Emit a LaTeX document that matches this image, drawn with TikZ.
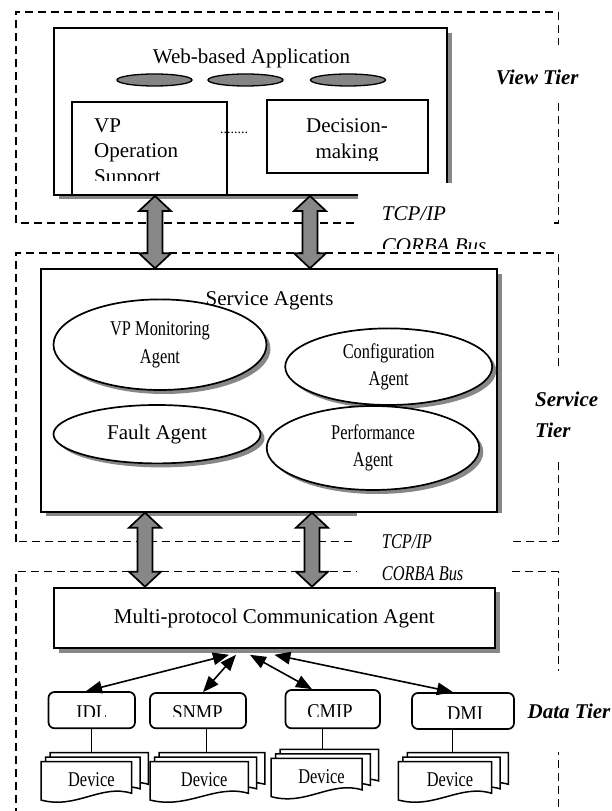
\documentclass[tikz,border=0pt]{standalone}
\usepackage{fontspec}
\setmainfont{Liberation Serif}
\newfontfamily\narrowfont[FakeStretch=0.78]{Liberation Serif}
\newfontfamily\slimfont[FakeStretch=0.88]{Liberation Serif}
\usetikzlibrary{arrows.meta}
\usetikzlibrary{shapes.geometric}
\usetikzlibrary{shadows}
\usetikzlibrary{calc}

\newcommand{\txtsize}{\fontsize{21}{25.5}\selectfont}

% one sheet of a device stack: left, top, width
\newcommand{\devsheet}[3]{%
  \draw[sheet] ({#1},{#2}) -- ({#1+(#3)},{#2}) -- ({#1+(#3)},{#2-31.6})
    .. controls ({#1+0.66*(#3)},{#2-22}) and ({#1+0.385*(#3)},{#2-48}) .. ({#1},{#2-38.3}) -- cycle;}

% three sheets and the label: name, left, top, width of the front sheet
\newcommand{\devstack}[4]{%
  \devsheet{#2+9}{#3+9}{#4+7.6}
  \devsheet{#2+4.5}{#3+4.5}{#4+3.8}
  \devsheet{#2}{#3}{#4}
  \node[devtext] (#1) at ({#2+(#4)/2+5},{#3-25}) {Device};}

% grey two-headed block arrow between an upper and a lower tip
\newcommand{\busarrow}[2]{%
  \draw[bus] (#1) -- ++(16,-15) -- ++(-8.5,0) -- ($(#2)+(7.5,15)$) -- ++(8.5,0)
    -- (#2) -- ++(-16,15) -- ++(8.5,0) -- ($(#1)+(-7.5,-15)$) -- ++(-8.5,0) -- cycle;}

\tikzset{
  tier/.style={line width=1.6pt, dash pattern=on 8pt off 5pt},
  panel/.style={draw, line width=2pt, fill=white, inner sep=0pt,
    drop shadow={shadow xshift=5pt, shadow yshift=-4.5pt, fill=black!47, opacity=1}},
  innerbox/.style={draw, line width=1.8pt, fill=white, inner sep=0pt},
  widget/.style={ellipse, draw, line width=1.3pt, fill=black!48,
    minimum width=75pt, minimum height=12pt, inner sep=0pt},
  agent/.style={ellipse, draw, line width=1.7pt, fill=white, inner sep=0pt, align=center,
    font=\narrowfont\fontsize{21}{27.5}\selectfont,
    drop shadow={shadow xshift=4pt, shadow yshift=-4pt, fill=black!47, opacity=1}},
  proto/.style={draw, line width=1.7pt, rounded corners=6pt, fill=white, inner sep=0pt},
  protext/.style={anchor=base, inner sep=0pt, font=\slimfont\txtsize},
  devtext/.style={anchor=base, inner sep=0pt, font=\narrowfont\txtsize},
  sheet/.style={draw, fill=white, line width=1.5pt},
  stem/.style={line width=1.5pt},
  link/.style={line width=1.6pt, {Triangle[length=16pt,width=12.5pt]}-{Triangle[length=16pt,width=12.5pt]}},
  bus/.style={draw, line width=1.7pt, fill=black!47},
  tiername/.style={fill=white, inner ysep=0pt, inner xsep=3pt,
    font=\fontsize{21}{30.7}\selectfont\bfseries\itshape},
  busname/.style={anchor=base west, inner sep=0pt, font=\txtsize\itshape},
}

\begin{document}
\begin{tikzpicture}[x=1pt,y=1pt]
\useasboundingbox (0,0) rectangle (611,811);

% tier frames
\draw[tier] (15.7,587.7) rectangle (558.3,799);
\draw[tier] (15.7,269.3) rectangle (558.3,557.7);
\draw[tier] (15.7,-5) rectangle (558.3,239.3);

% view tier
\node[panel, minimum width=392.8pt, minimum height=166.7pt] (webapp) at (250.1,699.35) {};
\node[anchor=base, inner sep=0pt, font=\txtsize] (webtitle) at (251.5,747.3) {Web-based Application};
\node[widget] (wid1) at (154.5,731) {};
\node[widget] (wid2) at (245.5,731) {};
\node[widget] (wid3) at (348,731) {};
\node[innerbox, minimum width=155pt, minimum height=92.8pt] (vpops) at (149.5,662.4) {};
\node[innerbox, minimum width=161.3pt, minimum height=72.7pt] (decision) at (347.35,674.65) {};
\begin{scope}
  \clip (vpops.north west) rectangle ([yshift=15pt]vpops.south east);
  \node[anchor=west, inner sep=0pt, align=left, font=\txtsize] (vptext) at (94,657.65) {VP\\Operation\\Support};
\end{scope}
\begin{scope}
  \clip (decision.north west) rectangle ([yshift=12.7pt]decision.south east);
  \node[inner sep=0pt, align=center, font=\txtsize] (dectext) at (347,670.4) {Decision-\\making};
\end{scope}
\node[anchor=base, inner sep=0pt, font=\fontsize{14}{14}\selectfont] (dots) at (234,677) {........};

% service tier
\node[panel, minimum width=455.5pt, minimum height=242.4pt] (agents) at (268.95,420.5) {};
\node[agent, minimum width=213pt, minimum height=90.6pt] (vpmon) at (160,466.3) {VP Monitoring\\Agent};
\node[agent, minimum width=207pt, minimum height=76.6pt] (config) at (388.7,444.3) {Configuration\\Agent};
\node[agent, minimum width=207pt, minimum height=58.4pt, font=\txtsize] (fault) at (157,376.8) {Fault Agent};
\node[agent, minimum width=212.6pt, minimum height=84pt] (perf) at (373,363) {Performance\\Agent};
\node[anchor=base, inner sep=0pt, font=\txtsize] (agtitle) at (269.6,505.7) {Service Agents};

% data tier
\node[panel, minimum width=441.3pt, minimum height=60.6pt, font=\txtsize] (multi) at (274.35,193) {Multi-protocol Communication Agent};
\node[proto, minimum width=86.5pt, minimum height=36.3pt] (idl) at (91.75,100.85) {};
\node[proto, minimum width=96pt, minimum height=35.3pt] (snmp) at (198,100.35) {};
\node[proto, minimum width=94.5pt, minimum height=38.3pt] (cmip) at (332.75,101.85) {};
\node[proto, minimum width=102pt, minimum height=36pt] (dmi) at (463,100) {};
\begin{scope}
  \clip (idl.north west) rectangle ([yshift=13pt]idl.south east);
  \node[protext] (idlname) at (91.75,91.8) {IDL};
\end{scope}
\begin{scope}
  \clip (snmp.north west) rectangle ([yshift=13pt]snmp.south east);
  \node[protext] (snmpname) at (197.5,91.8) {SNMP};
\end{scope}
\begin{scope}
  \clip (cmip.north west) rectangle ([yshift=13pt]cmip.south east);
  \node[protext] (cmipname) at (330,92.3) {CMIP};
\end{scope}
\begin{scope}
  \clip (dmi.north west) rectangle ([yshift=11.6pt]dmi.south east);
  \node[protext] (dminame) at (465,90) {DMI};
\end{scope}

% managed devices
\devstack{idldev}{41}{49.3}{90.7}
\devstack{snmpdev}{150}{49.3}{98.3}
\devstack{cmipdev}{271}{52.7}{91}
\devstack{dmidev}{398.3}{49.3}{93.4}
\coordinate (idlstem) at (91.7,58.3);
\coordinate (snmpstem) at (206.7,58.3);
\coordinate (cmipstem) at (322.7,61.7);
\coordinate (dmistem) at (452.7,58.3);
\draw[stem] (idlstem |- idl.south) -- (idlstem);
\draw[stem] (snmpstem |- snmp.south) -- (snmpstem);
\draw[stem] (cmipstem |- cmip.south) -- (cmipstem);
\draw[stem] (dmistem |- dmi.south) -- (dmistem);

% agent to protocol adapters
\draw[link] ([xshift=-45.4pt,yshift=-5.5pt]multi.south) -- ([xshift=-5.75pt]idl.north);
\draw[link] ([xshift=-38.4pt,yshift=-5.5pt]multi.south) -- ([xshift=5pt]snmp.north);
\draw[link] ([xshift=-24.4pt,yshift=-5.5pt]multi.south) -- ([xshift=-20.75pt]cmip.north);
\draw[link] ([yshift=-5.5pt]multi.south) -- ([xshift=-10pt]dmi.north);

% CORBA bus arrows
\coordinate (upbus1) at ([xshift=-95.1pt]webapp.south);
\coordinate (upbus2) at ([xshift=59.9pt]webapp.south);
\coordinate (sabus1) at (upbus1 |- agents.north);
\coordinate (sabus2) at (upbus2 |- agents.north);
\coordinate (lobus1) at ([xshift=-123.95pt]agents.south);
\coordinate (lobus2) at ([xshift=43.05pt]agents.south);
\coordinate (mabus1) at (lobus1 |- multi.north);
\coordinate (mabus2) at (lobus2 |- multi.north);
\busarrow{upbus1}{sabus1}
\busarrow{upbus2}{sabus2}
\busarrow{lobus1}{mabus1}
\busarrow{lobus2}{mabus2}

% bus labels
\begin{scope}
  \clip (358,562.5) rectangle (551,627.7);
  \fill[white] (358,562.5) rectangle (551,627.7);
  \node[busname] (tcpup) at (381.7,590.4) {TCP/IP};
  \node[busname] (corbaup) at (381.7,558.8) {CORBA Bus};
\end{scope}
\fill[white] (357,226) rectangle (512,297.8);
\node[busname, font=\narrowfont\txtsize\itshape] (tcpdown) at (381.7,262.4) {TCP/IP};
\node[busname, font=\narrowfont\txtsize\itshape] (corbadown) at (381.7,230.8) {CORBA Bus};

% tier names
\node[tiername, anchor=base, text height=40pt, text depth=16.7pt] (viewtier) at (537.3,726) {View Tier};
\node[tiername, align=left, minimum height=93.3pt, anchor=west] (servicetier) at (532,396.5) {Service\\Tier};
\node[tiername, minimum height=81.7pt, anchor=west] (datatier) at (524.5,99.45) {Data Tier};
\end{tikzpicture}
\end{document}
